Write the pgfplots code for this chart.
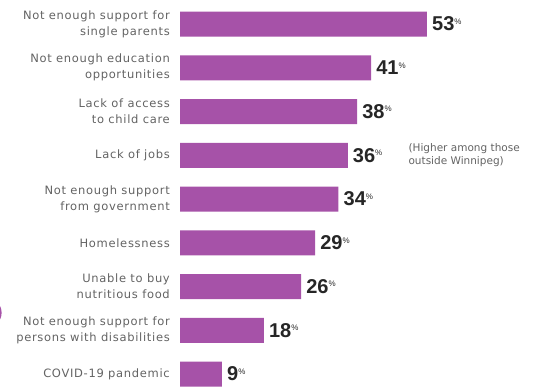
\documentclass[border=0pt]{standalone}
\usepackage{pgfplots}
\pgfplotsset{compat=1.18}
\usepackage{fontspec}
\setmainfont{DejaVu Sans}
\newfontfamily\labfont{DejaVu Sans}[LetterSpace=6]
\newfontfamily\numfont{Liberation Sans}
\definecolor{barpurple}{HTML}{A652A8}
\definecolor{labgray}{HTML}{636363}
\begin{document}
\begin{tikzpicture}
\begin{axis}[
  at={(0,0)}, anchor=south west,
  scale only axis, width=553pt, height=388pt,
  hide axis,
  xmin=-38.627, xmax=80.043,
  ymin=0.4514, ymax=9.32,
  y dir=reverse,
  clip=false,
]
\addplot[xbar, fill=barpurple, draw=none, bar width=25pt,
  point meta=x,
  nodes near coords={\numfont\fontsize{20}{22}\selectfont\bfseries\pgfmathprintnumber[assume math mode=true]{\pgfplotspointmeta}\raisebox{6.5pt}{\fontsize{8}{9}\selectfont\mdseries\%}},
  nodes near coords style={anchor=west, inner xsep=0pt, xshift=5pt, text=black!85},
] coordinates {
  (53,1) (41,2) (38,3) (36,4) (34,5) (29,6) (26,7) (18,8) (9,9)
};
\begin{scope}[every node/.style={anchor=east, align=right, text=labgray, font=\labfont\fontsize{11.5}{16}\selectfont, inner sep=0pt}]
\node at (axis cs:-2.15,1) {Not enough support for\\single parents};
\node at (axis cs:-2.15,2) {Not enough education\\opportunities};
\node at (axis cs:-2.15,3) {Lack of access\\to child care};
\node at (axis cs:-2.15,4) {Lack of jobs};
\node at (axis cs:-2.15,5) {Not enough support\\from government};
\node at (axis cs:-2.15,6) {Homelessness};
\node at (axis cs:-2.15,7) {Unable to buy\\nutritious food};
\node at (axis cs:-2.15,8) {Not enough support for\\persons with disabilities};
\node at (axis cs:-2.15,9) {COVID-19 pandemic};
\end{scope}
\node[anchor=west, align=left, text=labgray, font=\fontsize{10.5}{13}\selectfont, inner sep=0pt] at (axis cs:49,4) {(Higher among those\\outside Winnipeg)};
\fill[barpurple] (axis cs:-41.5,7.6) circle[radius=15pt];
\end{axis}
\pgfresetboundingbox
\path[use as bounding box] (0,0) rectangle (553pt,388pt);
\end{tikzpicture}
\end{document}
